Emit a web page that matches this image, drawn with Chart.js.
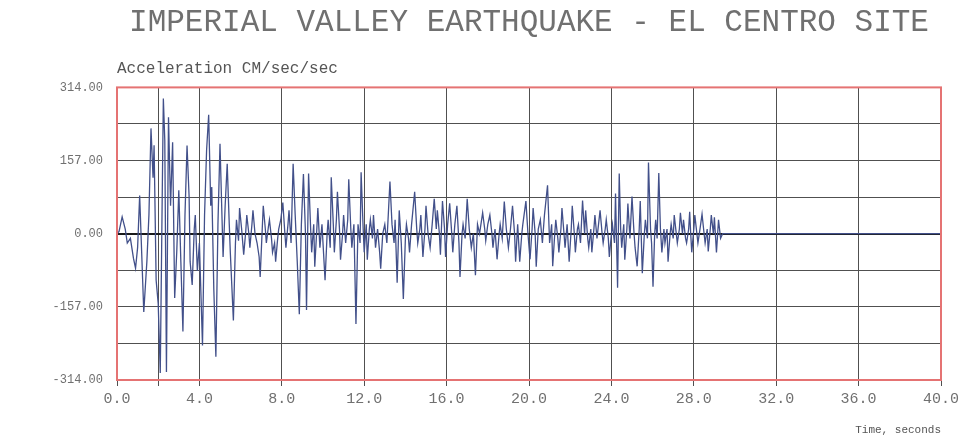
<!DOCTYPE html>
<html>
<head>
<meta charset="utf-8">
<script src="https://cdn.jsdelivr.net/npm/chart.js@4/dist/chart.umd.min.js"></script>
<style>
  html, body { margin: 0; padding: 0; background: #fff; }
  #wrap { width: 970px; height: 445px; }
</style>
</head>
<body>
<div id="wrap"><canvas id="quake"></canvas></div>
<script>
// El Centro record (seconds, cm/sec/sec)
const TIME_S = [
  0.0, 0.1, 0.25, 0.4, 0.5, 0.65, 0.8, 0.9, 1.0, 1.1, 1.3, 1.45, 1.55, 1.65, 1.75, 1.8, 1.9, 2.0, 2.1, 2.2,
  2.25, 2.32, 2.4, 2.5, 2.6, 2.7, 2.8, 2.9, 3.0, 3.1, 3.2, 3.3, 3.4, 3.5, 3.55, 3.65, 3.75, 3.8, 3.9, 4.0,
  4.15, 4.25, 4.35, 4.45, 4.55, 4.6, 4.7, 4.8, 4.9, 5.0, 5.1, 5.15, 5.25, 5.35, 5.45, 5.5, 5.65, 5.75, 5.8, 5.9,
  5.95, 6.05, 6.15, 6.25, 6.3, 6.4, 6.45, 6.55, 6.6, 6.7, 6.8, 6.9, 6.95, 7.05, 7.1, 7.2, 7.25, 7.35, 7.4, 7.5,
  7.55, 7.65, 7.7, 7.8, 7.85, 7.95, 8.05, 8.15, 8.2, 8.3, 8.35, 8.45, 8.55, 8.65, 8.75, 8.85, 8.95, 9.05, 9.15, 9.2,
  9.3, 9.4, 9.45, 9.55, 9.6, 9.7, 9.75, 9.85, 9.95, 10.1, 10.2, 10.25, 10.35, 10.4, 10.5, 10.55, 10.65, 10.7, 10.8, 10.85,
  10.95, 11.0, 11.1, 11.2, 11.25, 11.35, 11.4, 11.5, 11.6, 11.7, 11.8, 11.85, 11.95, 12.0, 12.1, 12.15, 12.25, 12.3, 12.4, 12.45,
  12.55, 12.65, 12.75, 12.8, 12.9, 13.0, 13.1, 13.25, 13.35, 13.45, 13.5, 13.6, 13.7, 13.8, 13.9, 14.0, 14.05, 14.15, 14.2, 14.3,
  14.45, 14.55, 14.6, 14.7, 14.75, 14.85, 14.95, 15.0, 15.1, 15.2, 15.3, 15.4, 15.5, 15.55, 15.65, 15.7, 15.8, 15.9, 15.95, 16.05,
  16.15, 16.25, 16.3, 16.4, 16.5, 16.6, 16.65, 16.75, 16.8, 16.9, 17.0, 17.1, 17.2, 17.3, 17.4, 17.5, 17.6, 17.75, 17.85, 17.9,
  18.0, 18.1, 18.2, 18.25, 18.35, 18.45, 18.55, 18.6, 18.7, 18.8, 18.9, 19.0, 19.1, 19.2, 19.3, 19.35, 19.45, 19.55, 19.65, 19.7,
  19.85, 19.95, 20.05, 20.15, 20.2, 20.3, 20.35, 20.45, 20.55, 20.65, 20.75, 20.9, 21.0, 21.1, 21.15, 21.25, 21.3, 21.4, 21.45, 21.55,
  21.6, 21.7, 21.75, 21.85, 21.95, 22.05, 22.1, 22.2, 22.25, 22.35, 22.4, 22.5, 22.6, 22.7, 22.75, 22.85, 22.9, 23.0, 23.05, 23.15,
  23.2, 23.3, 23.45, 23.55, 23.6, 23.7, 23.75, 23.85, 23.9, 24.0, 24.05, 24.15, 24.2, 24.3, 24.38, 24.45, 24.5, 24.6, 24.65, 24.75,
  24.8, 24.9, 25.0, 25.1, 25.15, 25.25, 25.35, 25.4, 25.5, 25.6, 25.65, 25.75, 25.8, 25.9, 25.95, 26.02, 26.1, 26.15, 26.22, 26.3,
  26.38, 26.45, 26.55, 26.6, 26.7, 26.75, 26.85, 26.9, 27.0, 27.05, 27.15, 27.2, 27.3, 27.35, 27.45, 27.5, 27.6, 27.65, 27.75, 27.8,
  27.85, 27.9, 28.0, 28.05, 28.15, 28.2, 28.3, 28.4, 28.5, 28.55, 28.65, 28.7, 28.8, 28.85, 28.95, 29.0, 29.1, 29.2, 29.3, 29.4,
  30.0, 40.0
];
const ACCEL = [
  0, 5, 36, 10, -20, -10, -53, -74, -30, 82, -168, -60, 40, 226, 120, 190, -100, -150, -299, 100,
  290, 200, -297, 250, 60, 196, -138, -40, 93, -60, -210, 40, 189, 80, -60, -110, 10, 40, -80, -20,
  -240, 40, 180, 255, 60, 100, -120, -264, 20, 193, 30, -50, 60, 150, 20, -40, -186, -20, 30, -15,
  55, 10, -45, 5, 40, 0, -30, 20, 50, 0, -20, -50, -93, 10, 60, 10, -20, 15, 30, -10,
  -40, -20, -60, -10, 10, 30, 67, 0, -30, 20, 50, -20, 150, 40, -60, -173, 20, 128, 0, -164,
  129, 10, -40, 20, -71, 10, 55, -30, 20, -100, 0, 30, -30, 121, 20, -40, 30, 90, 10, -56,
  0, 40, -20, 30, 117, 10, -30, 20, -194, 20, -20, 132, 10, -40, 20, -56, 10, 30, -10, 40,
  -30, 10, -40, -75, 0, 20, -20, 112, 20, -20, 30, -105, 50, -20, -140, -10, 20, -10, -40, 20,
  90, 10, -20, 10, 40, -50, 10, 60, 0, -30, 20, 75, 10, 50, 0, -45, 70, 10, -50, 20,
  65, 0, -40, 20, 60, -20, -93, 0, 20, -10, 75, 10, -30, 0, -89, 20, 0, 45, 10, -15,
  20, 40, 0, -30, 10, -55, 0, 20, -10, 69, 10, -30, 10, 60, 0, -60, 20, -60, 0, 20,
  70, 0, -55, 10, 55, 0, -71, 10, 30, -20, 40, 104, -20, 20, -70, 0, 30, -10, -40, 10,
  55, 0, -30, 20, -60, 10, 60, 0, -40, 10, 20, -20, 71, 0, 50, -10, -30, 10, -40, 10,
  40, -10, 50, 0, -20, 10, 30, -10, -50, 0, 20, -20, 86, -116, 129, 10, -30, 20, -56, 10,
  65, -10, 80, 0, -30, -70, 10, 70, -85, 0, 30, -10, 153, 10, -20, -114, 0, 30, -10, 130,
  10, -40, 10, -20, 10, -60, 0, 20, -10, 40, 0, -20, 10, 45, 0, 30, -10, -20, 10, 47,
  0, -40, 10, 40, 0, -20, 10, 42, 0, -20, 10, -38, 10, 40, 0, 35, -40, 30, -10, 0,
  0, 0
];
const X_TICKS = [0, 4, 8, 12, 16, 20, 24, 28, 32, 36, 40];
const X_EXTRA_GRID = [2];          // unlabelled grid line seen in the original
const Y_LABELLED = [-314, -157, 0, 157, 314];
const Y_STEP = 78.5;

const TITLE = 'IMPERIAL VALLEY EARTHQUAKE - EL CENTRO SITE';
const Y_TITLE = 'Acceleration CM/sec/sec';
const X_TITLE = 'Time, seconds';

const MONO = "'Liberation Mono', 'DejaVu Sans Mono', monospace";
const TEXT_GRAY = '#707070';

// red frame round the plot area
const framePlugin = {
    id: 'frame',
    afterDraw(chart) {
        const a = chart.chartArea;
        const ctx = chart.ctx;
        ctx.save();
        ctx.strokeStyle = '#e57373';
        ctx.lineWidth = 2;
        ctx.strokeRect(a.left, a.top, a.right - a.left, a.bottom - a.top);
        ctx.restore();
    }
};

const points = TIME_S.map((t, i) => ({ x: t, y: ACCEL[i] }));

new Chart(document.getElementById('quake'), {
    type: 'line',
    data: {
        datasets: [{
            data: points,
            borderColor: '#42508a',
            borderWidth: 1.3,
            pointRadius: 0,
            tension: 0,
            fill: false
        }]
    },
    options: {
        responsive: true,
        maintainAspectRatio: false,
        animation: false,
        layout: { padding: { left: 0, right: 29, top: 0, bottom: 4 } },
        plugins: {
            legend: { display: false },
            tooltip: { enabled: false },
            title: {
                display: true,
                text: TITLE,
                fullSize: false,
                color: TEXT_GRAY,
                font: { family: MONO, size: 31, weight: 'normal' },
                padding: { top: 4, bottom: 18 }
            },
            subtitle: {
                display: true,
                text: Y_TITLE,
                fullSize: false,
                align: 'start',
                color: '#555',
                font: { family: MONO, size: 16, weight: 'normal' },
                padding: { top: 0, bottom: 9 }
            }
        },
        scales: {
            x: {
                type: 'linear',
                min: 0,
                max: 40,
                afterBuildTicks: (scale) => {
                    scale.ticks = X_TICKS.concat(X_EXTRA_GRID)
                        .sort((a, b) => a - b)
                        .map(v => ({ value: v }));
                },
                afterFit: (scale) => { scale.height = 61; },
                ticks: {
                    color: TEXT_GRAY,
                    font: { family: MONO, size: 15 },
                    maxRotation: 0,
                    autoSkip: false,
                    padding: 4,
                    callback: (v) => X_TICKS.includes(v) ? v.toFixed(1) : ''
                },
                grid: { color: '#505050', lineWidth: 1, tickLength: 6, tickColor: '#505050' },
                border: { display: false },
                title: {
                    display: true,
                    text: X_TITLE,
                    align: 'end',
                    color: '#555',
                    font: { family: MONO, size: 11 },
                    padding: { top: 10 }
                }
            },
            y: {
                min: -314,
                max: 314,
                afterBuildTicks: (scale) => {
                    const t = [];
                    for (let v = -314; v <= 314.001; v += Y_STEP) t.push({ value: v });
                    scale.ticks = t;
                },
                afterFit: (scale) => { scale.width = 117; },
                ticks: {
                    color: TEXT_GRAY,
                    font: { family: MONO, size: 12 },
                    padding: 14,
                    callback: (v) => Y_LABELLED.some(l => Math.abs(l - v) < 0.01) ? v.toFixed(2) : ''
                },
                grid: {
                    color: (ctx) => Math.abs(ctx.tick.value) < 0.01 ? '#1a1a1a' : '#505050',
                    lineWidth: (ctx) => Math.abs(ctx.tick.value) < 0.01 ? 2 : 1,
                    drawTicks: false
                },
                border: { display: false }
            }
        }
    },
    plugins: [framePlugin]
});
</script>
</body>
</html>
